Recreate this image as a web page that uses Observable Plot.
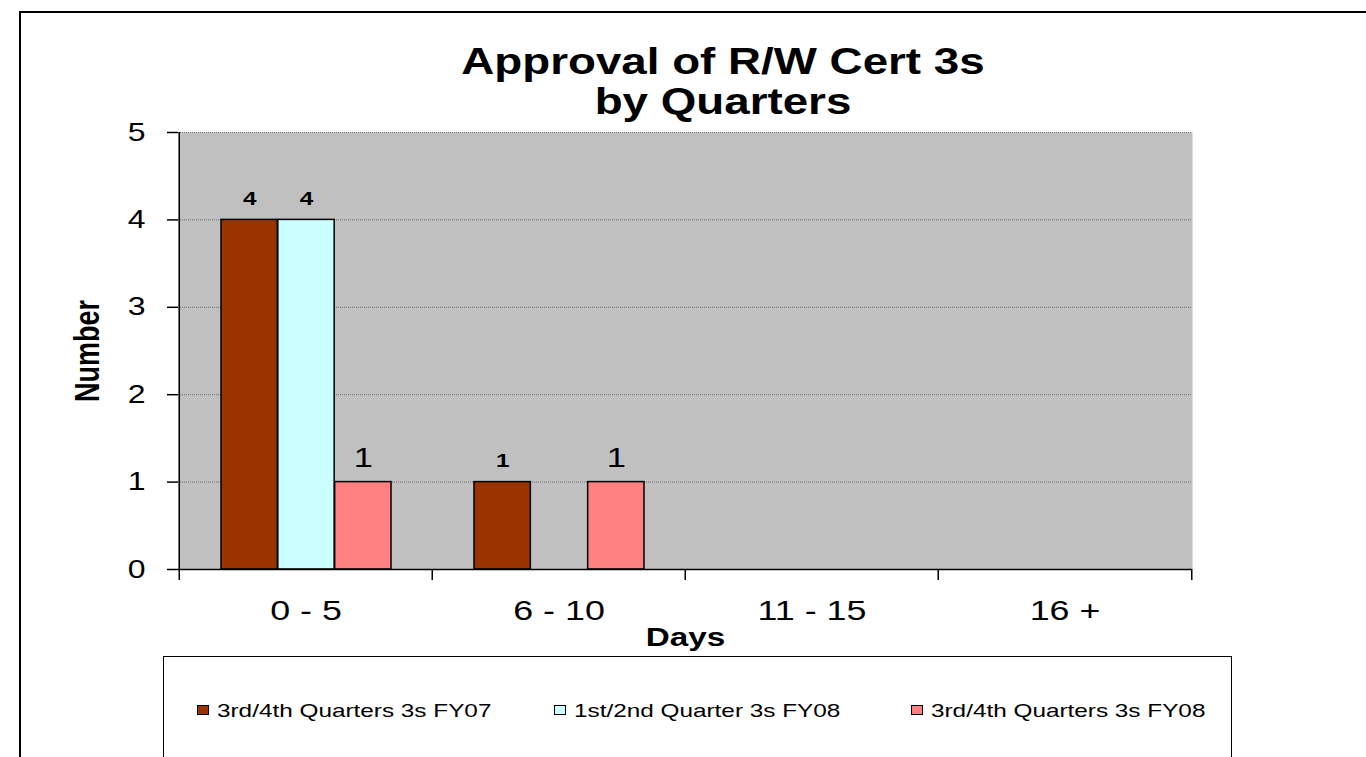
<!DOCTYPE html>
<html>
<head>
<meta charset="utf-8">
<script src="https://cdn.jsdelivr.net/npm/d3@7"></script>
<script src="https://cdn.jsdelivr.net/npm/@observablehq/plot@0.6"></script>
<style>
  html, body { margin: 0; padding: 0; background: #fff; width: 1366px; height: 757px; overflow: hidden;
    font-family: "Liberation Sans", Arial, sans-serif; color: #000; }
  #frame { position: absolute; left: 19px; top: 11px; width: 1400px; height: 800px; border: 2px solid #000; }
  #title { position: absolute; left: 223px; width: 1000px; top: 42px; text-align: center; font-weight: bold;
    font-size: 36px; line-height: 40px; transform: scaleX(1.27); transform-origin: center; }
  #chart { position: absolute; left: 0; top: 120px; width: 1366px; }
  #legendBox { position: absolute; left: 163px; top: 656px; width: 1067px; height: 200px; border: 1.5px solid #000; }
  .sw { position: absolute; width: 12px; height: 10px; border: 1px solid #000; box-sizing: border-box; }
  .lt { position: absolute; font-size: 19px; line-height: 20px; white-space: nowrap;
    transform: scaleX(1.28); transform-origin: left center; }
</style>
</head>
<body>
<div id="frame"></div>
<div id="title"></div>
<div id="chart"></div>
<div id="legendBox"></div>
<div id="legendItems"></div>
<script>
// ---- data ----
const titleLines = ["Approval of R/W Cert 3s", "by Quarters"];
const xLabel = "Days";
const yLabel = "Number";
const categories = ["0 - 5", "6 - 10", "11 - 15", "16 +"];
const seriesNames = ["3rd/4th Quarters 3s FY07", "1st/2nd Quarter 3s FY08", "3rd/4th Quarters 3s FY08"];
const seriesColors = ["#993300", "#CCFFFF", "#FF8080"];
const valuesFY07H2 = [4, 1, 0, 0];
const valuesFY08H1 = [4, 0, 0, 0];
const valuesFY08H2 = [1, 1, 0, 0];
const yTicks = [0, 1, 2, 3, 4, 5];

// ---- title ----
const titleEl = document.getElementById("title");
titleLines.forEach((t, i) => {
  if (i) titleEl.appendChild(document.createElement("br"));
  titleEl.appendChild(document.createTextNode(t));
});

// ---- chart ----
const seriesValues = [valuesFY07H2, valuesFY08H1, valuesFY08H2];
const rows = seriesValues.map((vals, s) =>
  categories.map((c, i) => ({cat: c, series: seriesNames[s], value: vals[i]})).filter(d => d.value > 0));

const W = 1366, H = 540, mL = 178, mR = 174, mT = 12, mB = 91;
const band = (W - mL - mR) / categories.length;
const padL = 42, padR = 41;
const slot = (band - padL - padR) / seriesNames.length;
const labelStyle = [
  {fontSize: 19, fontWeight: "bold"},
  {fontSize: 19, fontWeight: "bold"},
  {fontSize: 27, fontWeight: "normal"}
];

const marks = [
  Plot.frame({fill: "#C0C0C0", stroke: "none"}),
  Plot.ruleY(yTicks.filter(t => t > 0), {stroke: "#6a6a6a", strokeWidth: 1, strokeDasharray: "1,1"})
];
rows.forEach((data, s) => {
  const insetLeft = padL + s * slot;
  const insetRight = band - padL - (s + 1) * slot;
  marks.push(Plot.barY(data, {x: "cat", y: "value", fill: seriesColors[s], stroke: "#000", strokeWidth: 1.5,
    insetLeft, insetRight}));
  marks.push(Plot.text(data, {x: "cat", y: "value", text: d => String(d.value),
    dx: padL + (s + 0.5) * slot - band / 2, dy: -15, lineAnchor: "bottom", fill: "#000", ...labelStyle[s]}));
});
marks.push(
  Plot.ruleY([yTicks[0]], {stroke: "#000", strokeWidth: 1.5}),
  Plot.ruleX([categories[0]], {dx: -band / 2, y1: yTicks[0], y2: yTicks[yTicks.length - 1], stroke: "#000", strokeWidth: 1.5}),
  Plot.axisY({ticks: yTicks, tickFormat: d3.format("d"), tickSize: 11, tickPadding: 22, fontSize: 25, label: null, strokeWidth: 1.5, stroke: "#000", fill: "#000"}),
  Plot.axisX({tickSize: 11, tickFormat: () => "", dx: -band / 2, label: null, strokeWidth: 1.5, stroke: "#000"}),
  Plot.axisX([categories[categories.length - 1]], {tickSize: 11, tickFormat: () => "", dx: band / 2, label: null, strokeWidth: 1.5, stroke: "#000"}),
  Plot.axisX({tickSize: 0, tickPadding: 31, fontSize: 28, label: null, fill: "#000"}),
  Plot.text([xLabel], {text: d => d, frameAnchor: "bottom", textAnchor: "middle", dy: 58, lineAnchor: "top", fontSize: 26, fontWeight: "bold", fill: "#000"}),
  Plot.text([yLabel], {text: d => d, frameAnchor: "left", textAnchor: "middle", lineAnchor: "middle", dx: -91, rotate: -90, fontSize: 27, fontWeight: "bold", fill: "#000"})
);

const svg = Plot.plot({
  width: W, height: H,
  marginLeft: mL, marginRight: mR, marginTop: mT, marginBottom: mB,
  x: {type: "band", domain: categories, padding: 0},
  y: {domain: [yTicks[0], yTicks[yTicks.length - 1]]},
  style: {background: "transparent", overflow: "visible", fontFamily: "'Liberation Sans', Arial, sans-serif", color: "#000"},
  marks
});

// horizontal stretch of glyphs, as in the reference picture
function stretchText(root, k) {
  root.querySelectorAll("text").forEach(t => {
    const tr = t.getAttribute("transform") || "";
    const m = tr.match(/translate\([^)]*\)/);
    if (m) {
      t.setAttribute("transform", tr.replace(m[0], m[0] + ` scale(${k},1)`));
    } else {
      const x = parseFloat(t.getAttribute("x") || 0), y = parseFloat(t.getAttribute("y") || 0);
      t.removeAttribute("x"); t.removeAttribute("y");
      t.setAttribute("transform", `translate(${x},${y}) scale(${k},1) ${tr}`);
    }
  });
}
stretchText(svg, 1.28);
document.getElementById("chart").appendChild(svg);

// ---- legend ----
const legendEl = document.getElementById("legendItems");
seriesNames.forEach((name, i) => {
  const left = 197 + i * 357;
  const sw = document.createElement("div");
  sw.className = "sw";
  sw.style.left = left + "px";
  sw.style.top = "705px";
  sw.style.background = seriesColors[i];
  legendEl.appendChild(sw);
  const lt = document.createElement("div");
  lt.className = "lt";
  lt.style.left = (left + 20) + "px";
  lt.style.top = "701px";
  lt.textContent = name;
  legendEl.appendChild(lt);
});
</script>
</body>
</html>
